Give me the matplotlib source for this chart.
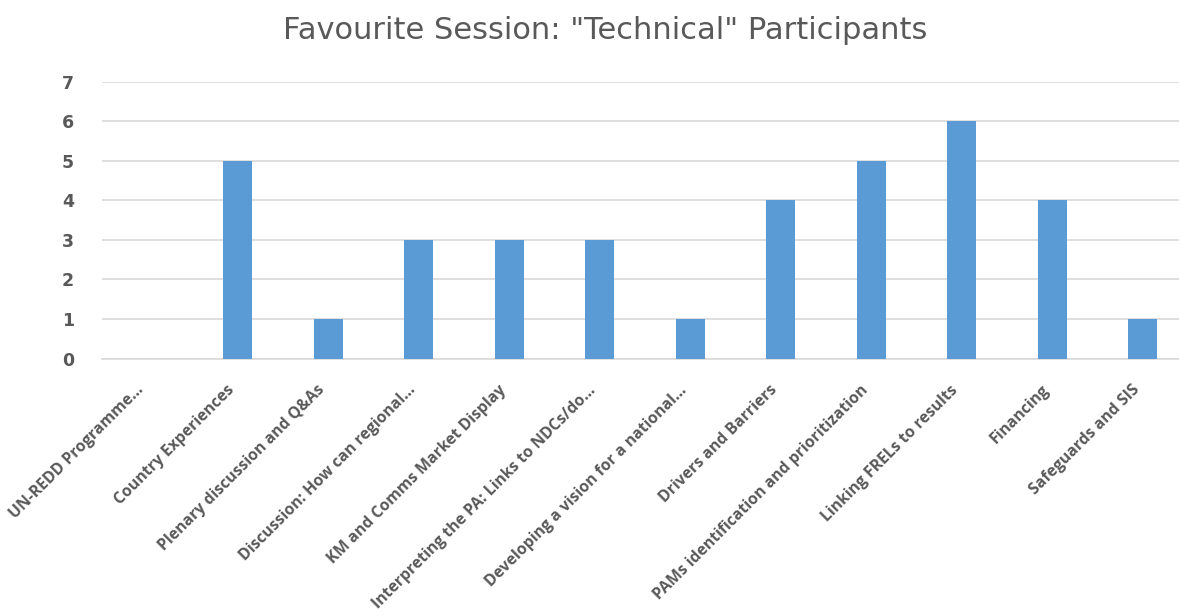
import matplotlib.pyplot as plt

# Sessionsnavn og antall stemmer
sessions = [
    'UN-REDD Programme...',
    'Country Experiences',
    'Plenary discussion and Q&As',
    'Discussion: How can regional...',
    'KM and Comms Market Display',
    'Interpreting the PA: Links to NDCs/do...',
    'Developing a vision for a national...',
    'Drivers and Barriers',
    'PAMs identification and prioritization',
    'Linking FRELs to results',
    'Financing',
    'Safeguards and SIS',
]
votes = [0, 5, 1, 3, 3, 3, 1, 4, 5, 6, 4, 1]
yticks = [0, 1, 2, 3, 4, 5, 6, 7]

tekstfarge = '#595959'
gridfarge = '#D9D9D9'

fig = plt.figure(figsize=(11.79, 6.16), dpi=100)
ax = fig.add_axes([0.0863, 0.418, 0.9213, 0.449])

x = range(len(sessions))
ax.bar(x, votes, width=0.32, color='#5B9BD5', zorder=3)

ax.set_xlim(-0.5, len(sessions) - 0.5)
ax.set_ylim(0, 7)
ax.set_yticks(yticks)
ax.set_yticklabels([str(t) for t in yticks], fontsize=12.5, fontweight='bold',
                   color=tekstfarge)
ax.grid(axis='y', color=gridfarge, linewidth=1.2, zorder=0)

ax.set_xticks(list(x))
ax.set_xticklabels(sessions, rotation=45, ha='right', fontsize=11.3,
                   fontweight='bold', color=tekstfarge,
                   family=['Open Sans', 'DejaVu Sans'])
ax.tick_params(axis='both', length=0)
ax.tick_params(axis='x', pad=17)
ax.tick_params(axis='y', pad=20)

for side in ['top', 'right', 'left']:
    ax.spines[side].set_visible(False)
ax.spines['bottom'].set_color(gridfarge)
ax.spines['bottom'].set_linewidth(1.2)

fig.text(0.513, 0.951, 'Favourite Session: "Technical" Participants',
         ha='center', va='center', fontsize=22, color=tekstfarge)

fig.savefig('out.png', dpi=100)
